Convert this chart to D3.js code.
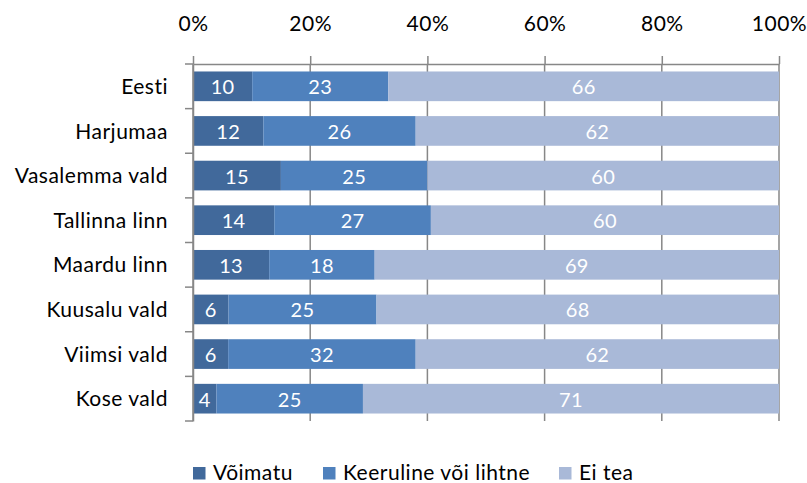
<!DOCTYPE html>
<html>
<head>
<meta charset="utf-8">
<script src="https://cdn.jsdelivr.net/npm/d3@7/dist/d3.min.js"></script>
<style>
  html, body { margin: 0; padding: 0; background: #fff; }
  svg { display: block; }
  text { font-family: Lato, "Open Sans", sans-serif; font-variant-ligatures: none; }
  .lbl { font-size: 21px; letter-spacing: 0.5px; fill: #000; }
</style>
</head>
<body>
<svg id="chart" width="807" height="483"></svg>
<script>
// Answer shares per area (percent)
const categories = ["Eesti", "Harjumaa", "Vasalemma vald", "Tallinna linn", "Maardu linn", "Kuusalu vald", "Viimsi vald", "Kose vald"];
const seriesNames = ["Võimatu", "Keeruline või lihtne", "Ei tea"];
const voimatu   = [10, 12, 15, 14, 13, 6, 6, 4];
const keeruline = [23, 26, 25, 27, 18, 25, 32, 25];
const eiTea     = [66, 62, 60, 60, 69, 68, 62, 71];
const tickValues = [0, 0.2, 0.4, 0.6, 0.8, 1];
const colors = ["#41699b", "#4f81bd", "#a9b9d8"];

const rows = categories.map((c, i) => ({
  category: c,
  [seriesNames[0]]: voimatu[i],
  [seriesNames[1]]: keeruline[i],
  [seriesNames[2]]: eiTea[i]
}));

const svg = d3.select("#chart");
const plotLeft = 193, plotRight = 779, plotTop = 64, plotBottom = 421;

const x = d3.scaleLinear().domain([0, 1]).range([plotLeft, plotRight]);
const y = d3.scaleBand().domain(categories).range([plotTop, plotBottom])
  .paddingInner(0.335).paddingOuter(0.1675);

const stack = d3.stack().keys(seriesNames).offset(d3.stackOffsetExpand);
const layers = stack(rows);

const grid = "#878787";

// vertical gridlines
svg.append("g").selectAll("line").data(tickValues).join("line")
  .attr("x1", d => x(d)).attr("x2", d => x(d))
  .attr("y1", plotTop).attr("y2", plotBottom)
  .attr("stroke", grid).attr("stroke-width", 1.5);

// stacked bars
const g = svg.append("g");
layers.forEach((layer, li) => {
  g.append("g").selectAll("rect").data(layer).join("rect")
    .attr("x", d => x(d[0]))
    .attr("width", d => x(d[1]) - x(d[0]))
    .attr("y", d => y(d.data.category))
    .attr("height", y.bandwidth())
    .attr("fill", colors[li]);
});

// value labels
layers.forEach((layer, li) => {
  g.append("g").selectAll("text").data(layer).join("text")
    .attr("x", d => (x(d[0]) + x(d[1])) / 2)
    .attr("y", d => y(d.data.category) + y.bandwidth() / 2 + 8)
    .attr("text-anchor", "middle")
    .attr("fill", "#fff")
    .attr("font-size", 20)
    .style("letter-spacing", "0.3px")
    .text(d => d.data[layer.key]);
});

// top axis
const xAxis = svg.append("g").attr("transform", `translate(0,${plotTop})`)
  .call(d3.axisTop(x).tickValues(tickValues).tickFormat(d3.format(".0%"))
    .tickSize(8).tickPadding(25).tickSizeOuter(0));
xAxis.select(".domain").attr("stroke", grid).attr("stroke-width", 1.5);
xAxis.selectAll(".tick line").attr("stroke", grid).attr("stroke-width", 1.5);
xAxis.selectAll(".tick text").attr("class", "lbl").attr("font-size", null).attr("fill", null)
  .style("font-family", "Lato, sans-serif");

// left axis with category labels
const yAxis = svg.append("g").attr("transform", `translate(${plotLeft},0)`)
  .call(d3.axisLeft(y).tickSize(0).tickPadding(25));
yAxis.select(".domain").attr("stroke", grid).attr("stroke-width", 1.5);
yAxis.selectAll(".tick text").attr("class", "lbl").attr("fill", null)
  .attr("dy", "0.36em").style("font-family", "Lato, sans-serif");
yAxis.attr("font-size", null);
xAxis.attr("font-size", null);

// boundary ticks between categories
const bounds = categories.map(c => y(c) - y.step() * y.paddingInner() / 2).concat([plotBottom]);
yAxis.append("g").selectAll("line").data(bounds).join("line")
  .attr("x1", -8).attr("x2", 0)
  .attr("y1", d => d).attr("y2", d => d)
  .attr("stroke", grid).attr("stroke-width", 1.5);

// legend
const legendX = [193, 323, 559];
const legend = svg.append("g");
seriesNames.forEach((name, i) => {
  legend.append("rect").attr("x", legendX[i]).attr("y", 467)
    .attr("width", 12.5).attr("height", 12.5).attr("fill", colors[i]);
  legend.append("text").attr("class", "lbl").attr("x", legendX[i] + 20).attr("y", 479.5)
    .text(name);
});
</script>
</body>
</html>
